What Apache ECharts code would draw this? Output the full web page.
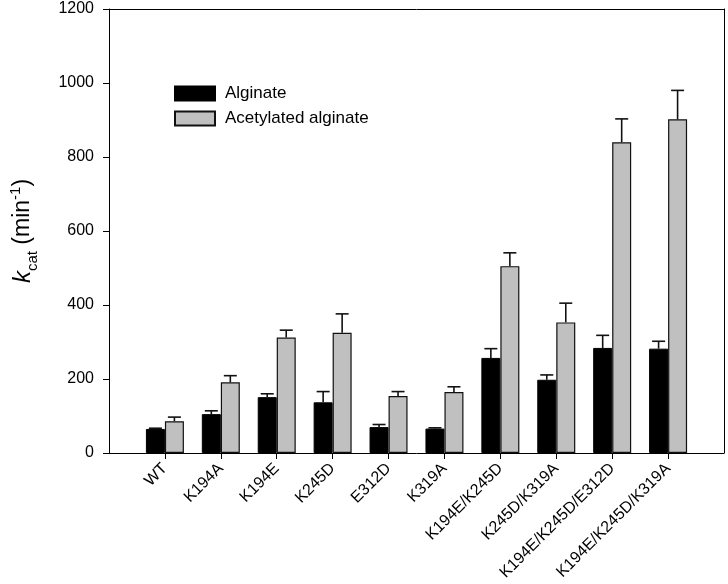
<!DOCTYPE html>
<html>
<head>
<meta charset="utf-8">
<script src="https://cdn.jsdelivr.net/npm/echarts@6/dist/echarts.min.js"></script>
<style>html,body{margin:0;padding:0;background:#fff}#c{width:728px;height:584px}</style>
</head>
<body>
<div id="c"></div>
<script>
var categories = ['WT','K194A','K194E','K245D','E312D','K319A','K194E/K245D','K245D/K319A','K194E/K245D/E312D','K194E/K245D/K319A'];
var alginate = [65, 105, 151, 137, 70, 66, 257, 198, 284, 282];
var alginateErr = [2, 9, 9, 29, 7, 2, 25, 13, 34, 20];
var acetylated = [86, 191, 312, 325, 154, 165, 505, 353, 840, 902];
var acetylatedErr = [11, 18, 20, 51, 12, 14, 36, 52, 63, 78];
var yTicks = [0, 200, 400, 600, 800, 1000, 1200];

var FONT = 'Liberation Sans, Arial, sans-serif';
var positions = categories.map(function (c, i) { return i + 1; });

function pairs(vals) { return vals.map(function (v, i) { return [positions[i], v]; }); }
function errData(vals, errs) { return vals.map(function (v, i) { return [positions[i], v, v + errs[i]]; }); }

function errRender(offset) {
  return function (params, api) {
    var x = api.value(0);
    var p0 = api.coord([x, api.value(1)]);
    var p1 = api.coord([x, api.value(2)]);
    var cx = p0[0] + offset;
    var capHalf = 6.5;
    return {
      type: 'group',
      children: [
        { type: 'line', shape: { x1: cx, y1: p0[1], x2: cx, y2: p1[1] }, style: { stroke: '#111', lineWidth: 1.6 } },
        { type: 'line', shape: { x1: cx - capHalf, y1: p1[1], x2: cx + capHalf, y2: p1[1] }, style: { stroke: '#111', lineWidth: 1.6 } }
      ]
    };
  };
}

var frameAxis = { show: true, axisLine: { show: true, onZero: false, lineStyle: { color: '#000', width: 1 } }, axisTick: { show: false }, axisLabel: { show: false }, splitLine: { show: false } };

var chart = echarts.init(document.getElementById('c'), null, { renderer: 'canvas' });
chart.setOption({
  animation: false,
  backgroundColor: '#fff',
  textStyle: { fontFamily: FONT },
  grid: { left: 107, top: 9, width: 617, height: 444 },
  legend: {
    orient: 'vertical', left: 169, top: 80, itemWidth: 40, itemHeight: 14, itemGap: 8,
    icon: 'rect',
    textStyle: { fontFamily: FONT, fontSize: 17, color: '#000', padding: [0, 0, 0, 5] },
    data: ['Alginate', 'Acetylated alginate']
  },
  xAxis: [{
    type: 'value', min: 0, max: 11, interval: 1,
    splitLine: { show: false },
    axisLine: { show: true, onZero: false, lineStyle: { color: '#000', width: 1 } },
    axisTick: { show: true, inside: false, length: 6, customValues: positions, lineStyle: { color: '#000' } },
    axisLabel: {
      customValues: positions, rotate: 45, margin: 13, fontSize: 16, color: '#000', fontFamily: FONT,
      formatter: function (v) { var i = Math.round(v) - 1; return categories[i] || ''; }
    }
  }, Object.assign({ type: 'value', position: 'top', min: 0, max: 11 }, frameAxis)],
  yAxis: [{
    type: 'value', min: 0, max: 1200, interval: 200,
    splitLine: { show: false },
    axisLine: { show: true, onZero: false, lineStyle: { color: '#000', width: 1 } },
    axisTick: { show: true, inside: false, length: 6, lineStyle: { color: '#000' } },
    axisLabel: { margin: 15, fontSize: 16, color: '#000', fontFamily: FONT, formatter: function (v) { return String(v); } },
    name: '{k|k}{sub|cat}{n| (min}{sup|-1}{n|)}',
    nameLocation: 'middle', nameRotate: 90, nameGap: 71,
    nameTextStyle: {
      fontFamily: FONT, color: '#000',
      rich: {
        k: { fontSize: 24, fontStyle: 'italic', fontFamily: FONT, color: '#000', lineHeight: 30 },
        n: { fontSize: 23, fontFamily: FONT, color: '#000', lineHeight: 30 },
        sub: { fontSize: 15, fontFamily: FONT, color: '#000', verticalAlign: 'bottom', lineHeight: 30, padding: [0, 0, -2, 0] },
        sup: { fontSize: 15, fontFamily: FONT, color: '#000', verticalAlign: 'top', lineHeight: 30 }
      }
    }
  }, Object.assign({ type: 'value', position: 'right', min: 0, max: 1200 }, frameAxis)],
  series: [
    {
      name: 'Alginate', type: 'bar', data: pairs(alginate), barWidth: 19, barGap: '0%',
      itemStyle: { color: '#000', borderColor: '#000', borderWidth: 1 }
    },
    {
      name: 'Acetylated alginate', type: 'bar', data: pairs(acetylated), barWidth: 19, barGap: '0%',
      itemStyle: { color: '#c0c0c0', borderColor: '#111', borderWidth: 1.2 }
    },
    {
      type: 'custom', data: errData(alginate, alginateErr), renderItem: errRender(-9.5), z: 3,
      encode: { x: 0, y: [1, 2] }
    },
    {
      type: 'custom', data: errData(acetylated, acetylatedErr), renderItem: errRender(9.5), z: 3,
      encode: { x: 0, y: [1, 2] }
    }
  ]
});
</script>
</body>
</html>
